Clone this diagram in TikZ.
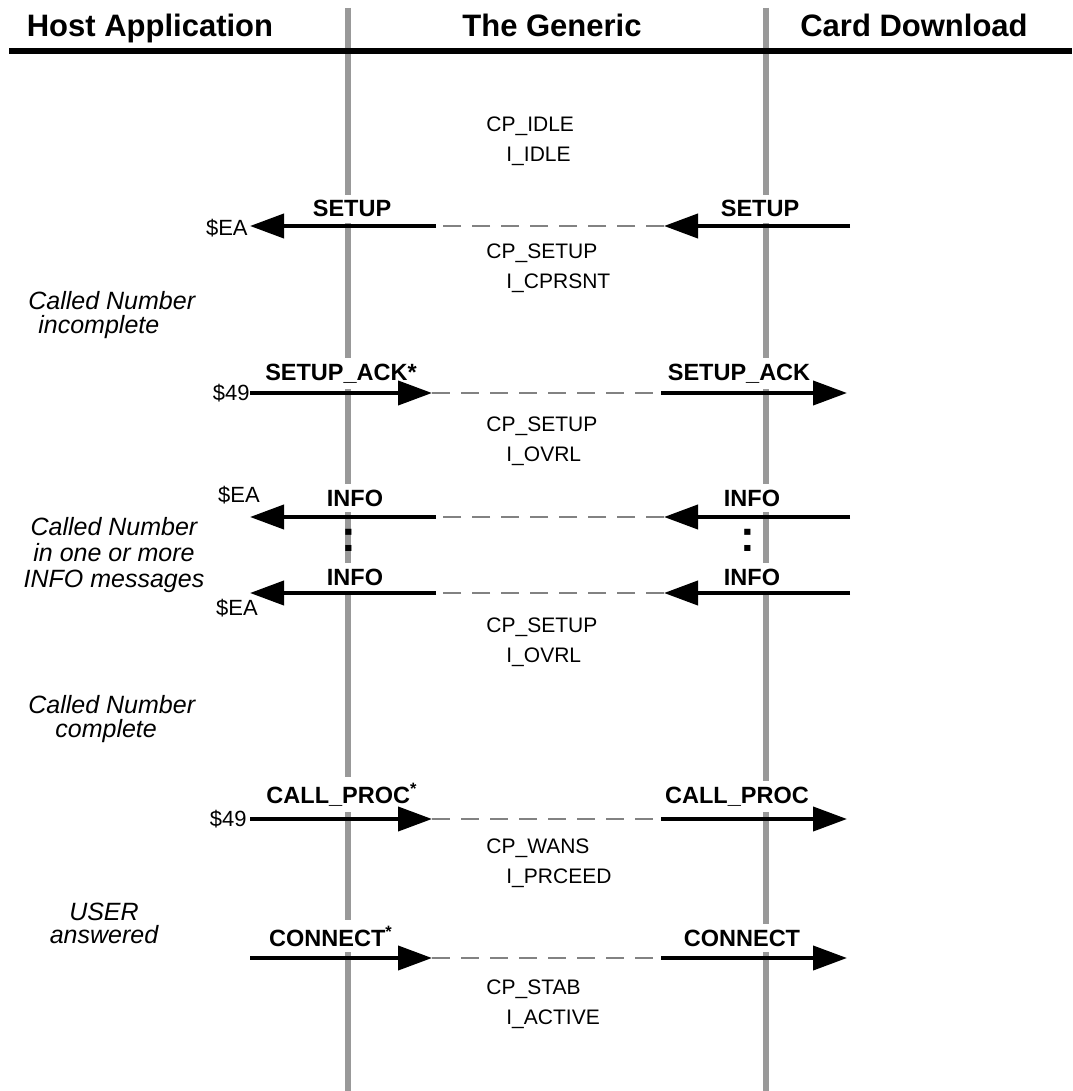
\documentclass[tikz,border=0pt]{standalone}
\usepackage{fontspec}
\setmainfont{Liberation Sans}
\usetikzlibrary{arrows.meta}
\definecolor{lifegray}{RGB}{153,153,153}
\definecolor{relaygray}{RGB}{130,130,130}
\tikzset{>={Triangle[length=17pt,width=12pt]}}
\tikzset{
	life/.style = {lifegray, line width = 3pt},
	msg/.style = {->, line width = 2pt},
	relay/.style = {relaygray, line width = 0.9pt, dash pattern = on 9pt off 5.5pt},
	head/.style = {font = \bfseries\fontsize{15.5}{18}\selectfont, inner sep = 0pt, anchor = base},
	lbl/.style = {font = \bfseries\fontsize{11.75}{14}\selectfont, fill = white, inner sep = 3pt, anchor = base},
	statelbl/.style = {font = \fontsize{10.5}{12}\selectfont, inner sep = 0pt, anchor = base west},
	code/.style = {font = \fontsize{11}{13}\selectfont, inner sep = 0pt},
	note/.style = {font = \itshape\fontsize{12.5}{12}\selectfont, inner sep = 0pt},
	colon/.style = {font = \bfseries\fontsize{22}{22}\selectfont, inner sep = 0pt}
}
\newcommand\lifeline[2]{{\coordinate (#1top) at (#2, 8); \coordinate (#1bot) at (#2, 1091); \draw[life] (#1top) -- (#1bot);}}
\newcommand\statepair[4]{{\node[statelbl] (cp#1) at (486, #2) {#3}; \node[statelbl] (i#1) at (506, #2 + 30) {#4};}}
\newcommand\leftmsg[2]{%
	\coordinate (#1a) at (850, #2); \coordinate (#1b) at (664, #2);
	\coordinate (#1c) at (436, #2); \coordinate (#1d) at (250, #2);
	\draw[msg] (#1a) -- (#1b); \draw[relay] (#1b) -- (#1c); \draw[msg] (#1c) -- (#1d);}
\newcommand\rightmsg[2]{%
	\coordinate (#1a) at (250, #2); \coordinate (#1b) at (432, #2);
	\coordinate (#1c) at (661, #2); \coordinate (#1d) at (847, #2);
	\draw[msg] (#1a) -- (#1b); \draw[relay] (#1b) -- (#1c); \draw[msg] (#1c) -- (#1d);}

\begin{document}
\begin{tikzpicture}[x = 0.5pt, y = -0.5pt]
	\useasboundingbox (0, 0) rectangle (1072, 1091);
	\lifeline{host}{348} \lifeline{card}{766}
	\coordinate (rulel) at (9, 51); \coordinate (ruler) at (1072, 51);
	\draw[line width = 3pt] (rulel) -- (ruler);
	\node[head] (hhost) at (150, 37) {Host Application};
	\node[head] (hgen) at (552, 37) {The Generic};
	\node[head] (hcard) at (914, 37) {Card Download};

	\statepair{idle}{132}{CP\_IDLE}{I\_IDLE}
	\statepair{setup}{258}{CP\_SETUP}{I\_CPRSNT}
	\statepair{ovrla}{431}{CP\_SETUP}{I\_OVRL}
	\statepair{ovrlb}{632}{CP\_SETUP}{I\_OVRL}
	\statepair{wans}{853}{CP\_WANS}{I\_PRCEED}
	\statepair{stab}{994}{CP\_STAB}{I\_ACTIVE}

	\node[lbl] (setupl) at (352, 217) {SETUP};
	\node[lbl] (setupr) at (760, 217) {SETUP};
	\node[lbl] (ackl) at (341, 380) {SETUP\_ACK*};
	\node[lbl] (ackr) at (739, 380) {SETUP\_ACK};
	\node[lbl] (infoal) at (355, 506) {INFO};
	\node[lbl] (infoar) at (752, 506) {INFO};
	\node[lbl] (infobl) at (355, 585) {INFO};
	\node[lbl] (infobr) at (752, 585) {INFO};
	\node[lbl] (procl) at (342, 803) {CALL\_PROC\textsuperscript{*}};
	\node[lbl] (procr) at (737, 803) {CALL\_PROC};
	\node[lbl] (connl) at (331, 946) {CONNECT\textsuperscript{*}};
	\node[lbl] (connr) at (742, 946) {CONNECT};

	\leftmsg{setup}{226}
	\rightmsg{ack}{393}
	\leftmsg{infoa}{517}
	\leftmsg{infob}{593}
	\rightmsg{proc}{819}
	\rightmsg{conn}{958}

	\node[code, anchor = east] (eaa) at (248, 228) {\$EA};
	\node[code, anchor = east] (nna) at (250, 393) {\$49};
	\node[code] (eab) at (239, 495) {\$EA};
	\node[code] (eac) at (237, 608) {\$EA};
	\node[code, anchor = east] (nnb) at (247, 819) {\$49};

	\node[colon] (dotsl) at (349, 540) {:};
	\node[colon] (dotsr) at (748, 540) {:};

	\node[note, align = left, anchor = base west] (incompl) at (28, 333) {Called Number\\\hspace*{5pt}incomplete};
	\node[note, align = center, anchor = base, font = \itshape\fontsize{12.5}{13}\selectfont] (infonote) at (114, 587) {Called Number\\in one or more\\INFO messages};
	\node[note, align = left, anchor = base west] (compl) at (28, 737) {Called Number\\\hspace*{13.5pt}complete};
	\node[note, align = center, anchor = base, font = \itshape\fontsize{12.5}{11.5}\selectfont] (usernote) at (104, 943) {USER\\answered};
\end{tikzpicture}
\end{document}
